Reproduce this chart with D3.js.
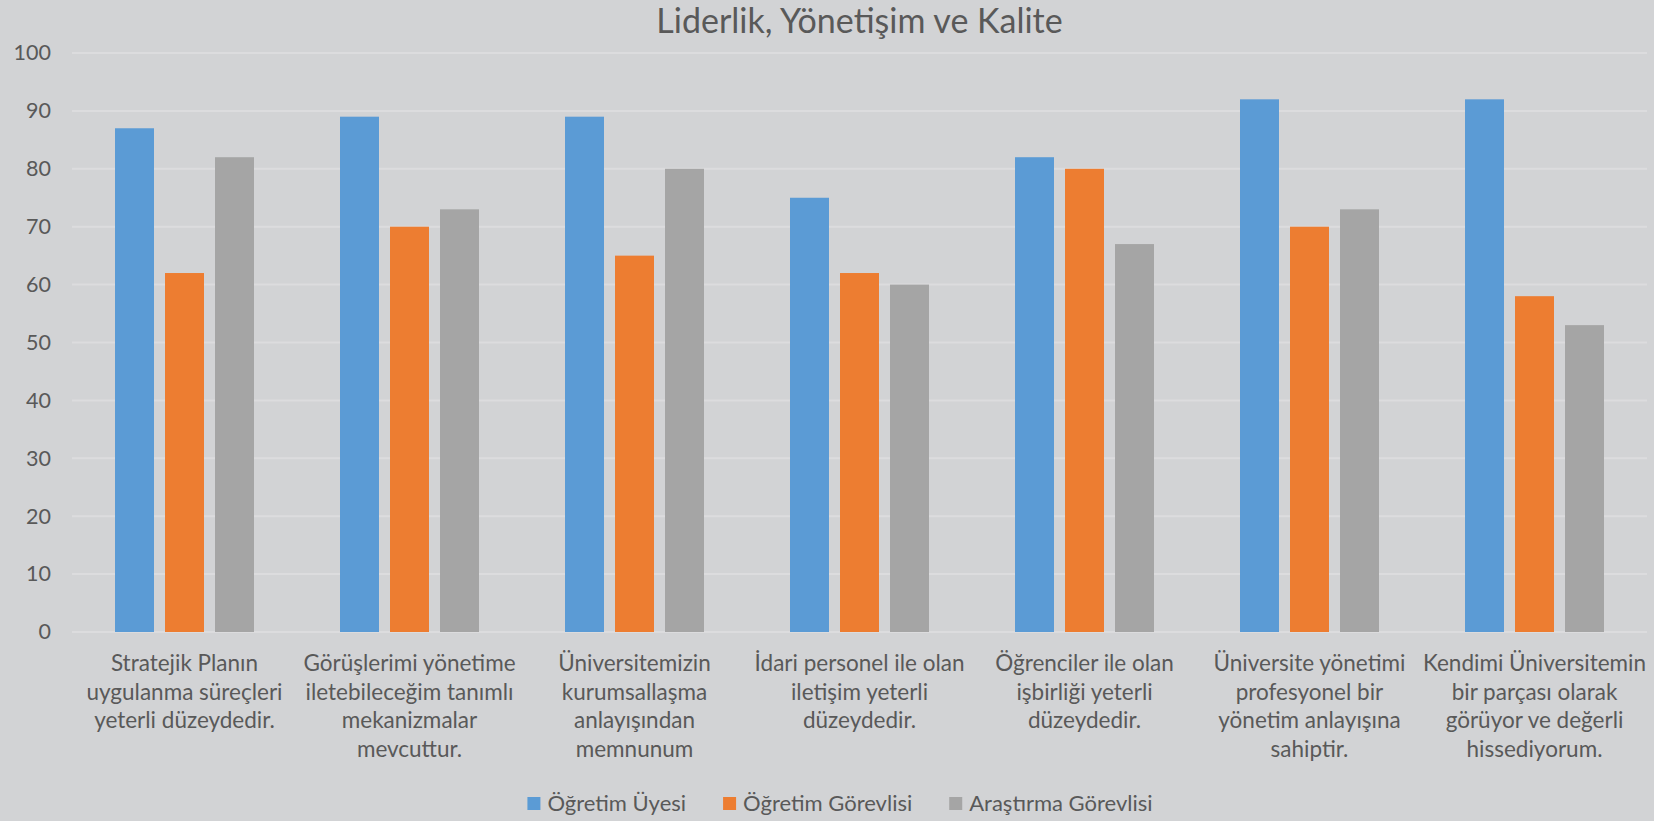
<!DOCTYPE html>
<html>
<head>
<meta charset="utf-8">
<script src="https://cdn.jsdelivr.net/npm/d3@7"></script>
<style>
  body { margin: 0; background: #d2d3d5; }
  svg { display: block; font-family: Lato, "Open Sans", sans-serif; }
</style>
</head>
<body>
<svg width="1654" height="821"></svg>
<script>
// categories, each split into the lines shown under the axis
var categories = [
  ["Stratejik Planın", "uygulanma süreçleri", "yeterli düzeydedir."],
  ["Görüşlerimi yönetime", "iletebileceğim tanımlı", "mekanizmalar", "mevcuttur."],
  ["Üniversitemizin", "kurumsallaşma", "anlayışından", "memnunum"],
  ["İdari personel ile olan", "iletişim yeterli", "düzeydedir."],
  ["Öğrenciler ile olan", "işbirliği yeterli", "düzeydedir."],
  ["Üniversite yönetimi", "profesyonel bir", "yönetim anlayışına", "sahiptir."],
  ["Kendimi Üniversitemin", "bir parçası olarak", "görüyor ve değerli", "hissediyorum."]
];
var seriesNames = ["Öğretim Üyesi", "Öğretim Görevlisi", "Araştırma Görevlisi"];
var ogretimUyesi = [87, 89, 89, 75, 82, 92, 92];
var ogretimGorevlisi = [62, 70, 65, 62, 80, 70, 58];
var arastirmaGorevlisi = [82, 73, 80, 60, 67, 73, 53];
var yTicks = [0, 10, 20, 30, 40, 50, 60, 70, 80, 90, 100];
var colors = ["#5b9bd5", "#ed7d31", "#a5a5a5"];

var allSeries = [ogretimUyesi, ogretimGorevlisi, arastirmaGorevlisi];

var svg = d3.select("svg"),
    margin = { top: 53, right: 7, bottom: 189, left: 72 },
    width = +svg.attr("width") - margin.left - margin.right,
    height = +svg.attr("height") - margin.top - margin.bottom;

var g = svg.append("g").attr("transform", "translate(" + margin.left + "," + margin.top + ")");

// scales
var x0 = d3.scaleBand().domain(d3.range(categories.length)).range([0, width]).paddingInner(0).paddingOuter(0);
var x1 = d3.scaleBand().domain(d3.range(seriesNames.length)).range([43, x0.bandwidth() - 43]).paddingInner(0.22);
var y = d3.scaleLinear().domain([0, 100]).range([height, 0]);

// gridlines
g.append("g").selectAll("line").data(yTicks).enter().append("line")
  .attr("x1", 0).attr("x2", width)
  .attr("y1", d => y(d)).attr("y2", d => y(d))
  .attr("stroke", "#dcdcde").attr("stroke-width", 2);

// y axis labels
var yAxis = g.append("g").call(d3.axisLeft(y).tickValues(yTicks).tickSize(0).tickPadding(21));
yAxis.select(".domain").remove();
yAxis.selectAll("text").attr("fill", "#595959").style("font-size", "21.5px").style("font-family", "Lato, sans-serif");

// bars
var groups = g.selectAll(".grp").data(categories).enter().append("g")
  .attr("class", "grp")
  .attr("transform", (d, i) => "translate(" + x0(i) + ",0)");

groups.selectAll("rect").data((d, i) => allSeries.map((s, k) => ({ k: k, v: s[i] })))
  .enter().append("rect")
  .attr("x", d => x1(d.k))
  .attr("width", x1.bandwidth())
  .attr("y", d => y(d.v))
  .attr("height", d => height - y(d.v))
  .attr("fill", d => colors[d.k]);

// x labels
groups.append("text")
  .attr("x", x0.bandwidth() / 2)
  .attr("y", height + 39)
  .attr("text-anchor", "middle")
  .attr("fill", "#595959")
  .style("font-size", "22.5px")
  .selectAll("tspan").data(d => d).enter().append("tspan")
  .attr("x", x0.bandwidth() / 2)
  .attr("dy", (d, i) => i === 0 ? 0 : 28.5)
  .text(d => d);

// title
svg.append("text")
  .attr("x", margin.left + width / 2)
  .attr("y", 33)
  .attr("text-anchor", "middle")
  .attr("fill", "#595959")
  .style("font-size", "34px")
  .text("Liderlik, Yönetişim ve Kalite");

// legend - items laid out after measuring text, centred on the row
var legend = svg.append("g");
var items = legend.selectAll("g").data(seriesNames).enter().append("g");
items.append("rect").attr("width", 13).attr("height", 13).attr("fill", (d, i) => colors[i]);
items.append("text").attr("x", 20).attr("y", 14).attr("fill", "#595959")
  .style("font-size", "22px").text(d => d);
var pos = 0;
items.each(function () {
  var w = this.getBBox().width;
  d3.select(this).attr("transform", "translate(" + pos + ",0)");
  pos += w + 37;
});
var total = pos - 37;
legend.attr("transform", "translate(" + (840 - total / 2) + ",797)");
</script>
</body>
</html>
